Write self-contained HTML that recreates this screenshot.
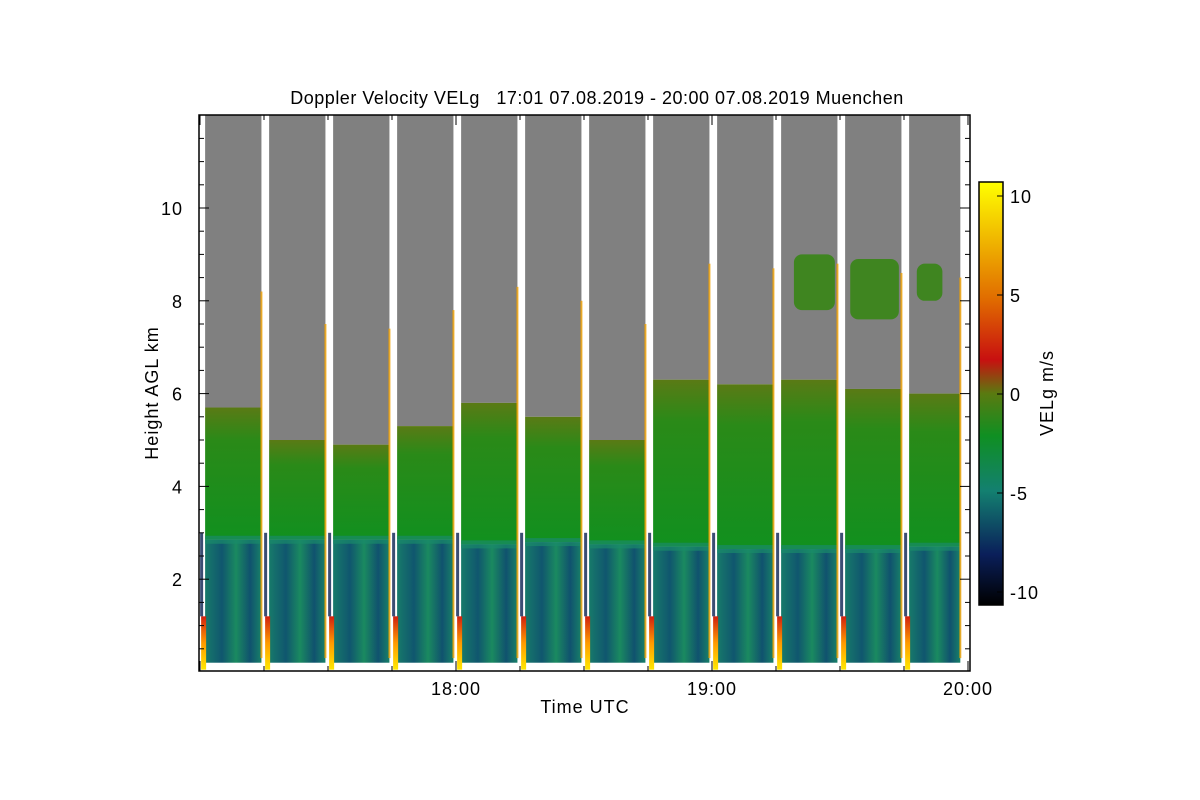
<!DOCTYPE html>
<html><head><meta charset="utf-8"><style>
body{margin:0;background:#fff}
svg{display:block;font-family:"Liberation Sans",sans-serif}
.lbl{font-size:18px;letter-spacing:1px}
</style></head><body>
<svg id="c" width="1200" height="800">
<defs>
<linearGradient id="cb" x1="0" y1="1" x2="0" y2="0">
<stop offset="0" stop-color="#000000"/><stop offset="0.12" stop-color="#0a1f5a"/>
<stop offset="0.27" stop-color="#138070"/><stop offset="0.4" stop-color="#0f8f22"/>
<stop offset="0.5" stop-color="#5a7a10"/><stop offset="0.58" stop-color="#c81010"/>
<stop offset="0.72" stop-color="#e06a00"/><stop offset="1" stop-color="#ffff00"/>
</linearGradient>
<linearGradient id="low" x1="0" y1="0" x2="1" y2="0">
<stop offset="0" stop-color="#177a6a"/><stop offset="0.3" stop-color="#10566e"/>
<stop offset="0.55" stop-color="#1a8a60"/><stop offset="0.8" stop-color="#10526e"/>
<stop offset="1" stop-color="#188068"/>
</linearGradient>
<linearGradient id="mid" x1="0" y1="0" x2="0" y2="1">
<stop offset="0" stop-color="#5a7a15"/><stop offset="0.25" stop-color="#2a8a18"/>
<stop offset="1" stop-color="#11901f"/>
</linearGradient>
<linearGradient id="edge" x1="0" y1="0" x2="0" y2="1">
<stop offset="0" stop-color="#d02010"/><stop offset="0.5" stop-color="#ff9a00"/><stop offset="1" stop-color="#ffe800"/>
</linearGradient>
</defs>
<g id="plot"></g>
<text x="597" y="104" text-anchor="middle" font-size="18" letter-spacing="0.5">Doppler Velocity VELg &#160; 17:01 07.08.2019 - 20:00 07.08.2019 Muenchen</text>
<text x="585" y="713" text-anchor="middle" class="lbl">Time UTC</text>
<text transform="translate(158,393) rotate(-90)" text-anchor="middle" class="lbl">Height AGL km</text>
<text transform="translate(1053,393) rotate(-90)" text-anchor="middle" class="lbl">VELg m/s</text>
</svg>
<script>
const segStart=[17.02,17.27,17.52,17.77,18.02,18.27,18.52,18.77,19.02,19.27,19.52,19.77];
const segEnd=[17.24,17.49,17.74,17.99,18.24,18.49,18.74,18.99,19.24,19.49,19.74,19.97];
const cloudTop=[5.7,5.0,4.9,5.3,5.8,5.5,5.0,6.3,6.2,6.3,6.1,6.0];
const meltLayer=[2.85,2.85,2.85,2.85,2.75,2.8,2.75,2.7,2.65,2.65,2.65,2.7];
const upperCloud=[[19.32,19.48,7.8,9.0],[19.54,19.73,7.6,8.9],[19.8,19.9,8.0,8.8]];
const xTicks=[18,19,20];const xTickLabels=["18:00","19:00","20:00"];
const yTicks=[2,4,6,8,10];
const cbTicks=[10,5,0,-5,-10];
const X0=200,PXH=256,Y0=672,PXK=46.4,L=199,R=970,T=115,B=671;
const x=t=>X0+(t-17)*PXH, y=h=>Y0-h*PXK;
const cbY=v=>394-v*19.8;
const NS='http://www.w3.org/2000/svg';
const plot=document.getElementById('plot'),svg=document.getElementById('c');
function mk(tag,a,p){const e=document.createElementNS(NS,tag);for(const k in a)e.setAttribute(k,a[k]);(p||plot).appendChild(e);return e;}
segStart.forEach((s,i)=>{
 const x1=x(s),x2=x(segEnd[i]),w=x2-x1;
 let e=mk('rect',{x:x1,y:T,width:w,height:y(cloudTop[i])-T,fill:'#808080'});
 
 e=mk('rect',{x:x1,y:y(cloudTop[i]),width:w,height:y(meltLayer[i])-y(cloudTop[i]),fill:'url(#mid)'});
 
 e=mk('rect',{x:x1,y:y(meltLayer[i]),width:w,height:y(0.2)-y(meltLayer[i]),fill:'url(#low)'});
 
 e=mk('rect',{x:x1,y:y(meltLayer[i])-4,width:w,height:8,fill:'#1a8a6a',opacity:0.7});
 
 e=mk('rect',{x:x1-4,y:y(1.2),width:5,height:y(0.05)-y(1.2),fill:'url(#edge)'});
 
 e=mk('rect',{x:x1-5,y:y(3.0),width:3,height:y(1.2)-y(3.0),fill:'#0a2050',opacity:0.8});
 
 e=mk('rect',{x:x2-1,y:y(cloudTop[i]+2.5),width:2,height:y(0.3)-y(cloudTop[i]+2.5),fill:'#f0a000',opacity:0.8});
 
});
upperCloud.forEach(u=>{
 const e=mk('rect',{x:x(u[0]),y:y(u[3]),width:x(u[1])-x(u[0]),height:y(u[2])-y(u[3]),fill:'#3f8520',rx:8});
 
});
let f=mk('rect',{x:L,y:T,width:R-L,height:B-T,fill:'none',stroke:'#000','stroke-width':1.5});

for(let t=17;t<=20.001;t+=0.25){
 const big=Math.abs(t-Math.round(t))<0.01,len=big?10:5;
 mk('line',{x1:x(t),x2:x(t),y1:B,y2:B-len,stroke:'#000'});
 mk('line',{x1:x(t),x2:x(t),y1:T,y2:T+len,stroke:'#000'});
}
xTicks.forEach((t,i)=>{const e=mk('text',{x:x(t),y:695,'text-anchor':'middle',class:'lbl'},svg);e.textContent=xTickLabels[i];
 });
for(let h=0.5;h<12;h+=0.5){const big=Math.abs(h-Math.round(h))<0.01&&Math.round(h)%2==0,len=big?10:5;
 mk('line',{x1:L,x2:L+len,y1:y(h),y2:y(h),stroke:'#000'});mk('line',{x1:R,x2:R-len,y1:y(h),y2:y(h),stroke:'#000'});}
yTicks.forEach(h=>{const e=mk('text',{x:183,y:y(h)+7,'text-anchor':'end',class:'lbl'},svg);e.textContent=h;
 });
let cb=mk('rect',{x:979,y:182,width:24,height:423,fill:'url(#cb)',stroke:'#000','stroke-width':1.5},svg);

cbTicks.forEach(v=>{mk('line',{x1:1003,x2:997,y1:cbY(v),y2:cbY(v),stroke:'#000'},svg);
 const e=mk('text',{x:1010,y:cbY(v)+7,class:'lbl'},svg);e.textContent=v;
 });
</script>
</body></html>
